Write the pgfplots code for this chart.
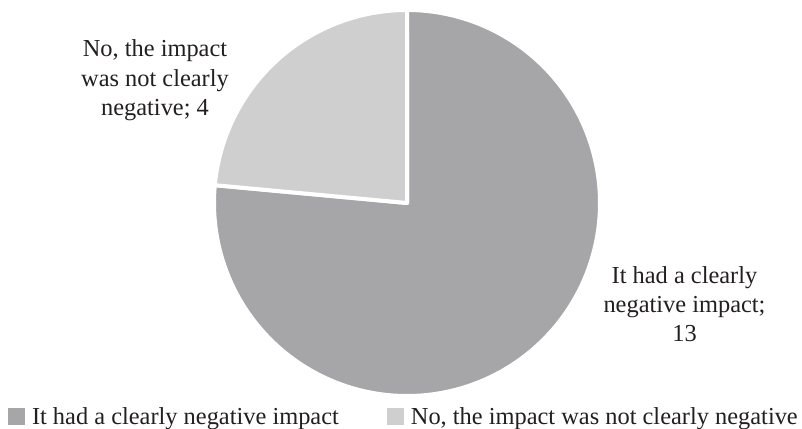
\documentclass[border=0pt]{standalone}
\usepackage{pgfplots}
\usepackage{pgfplotstable}
\pgfplotsset{compat=1.18}
\usepackage{fontspec}
\setmainfont{Liberation Serif}
\definecolor{darkg}{RGB}{166,166,169}
\definecolor{lightg}{RGB}{207,207,208}
\definecolor{txt}{RGB}{35,31,32}
\begin{document}
\begin{tikzpicture}[font=\fontsize{24.4bp}{29.3bp}\selectfont]
\pgfplotstableread{
label value
neg 13
notneg 4
}\piedata
\pgfplotstablegetelem{0}{value}\of\piedata \let\va\pgfplotsretval
\pgfplotstablegetelem{1}{value}\of\piedata \let\vb\pgfplotsretval
\pgfmathsetmacro\tot{\va+\vb}
\pgfmathsetmacro\angA{90-360*\va/\tot}
\pgfmathsetmacro\angB{90+360*\vb/\tot}
\def\R{1.0105}
\begin{axis}[
  at={(0,0)}, anchor=south west,
  scale only axis, width=802bp, height=429bp,
  xmin=-2.1309, xmax=2.0681, ymin=-1.1832, ymax=1.0628,
  hide axis, clip=false,
  legend columns=2,
  legend cell align=left,
  legend image code/.code={\fill[#1,draw=none] (0bp,-8.5bp) rectangle (17bp,8.5bp);},
  legend style={draw=none, fill=none, inner sep=0pt, outer sep=0pt,
    text=txt,
    nodes={inner sep=0pt, text depth=0.15em},
    at={(0.009975,0.0506)}, anchor=north west,
    /tikz/every odd column/.append style={column sep=7bp},
    /tikz/every even column/.append style={column sep=48bp}},
]
\addplot[fill=darkg, draw=white, line width=4bp, line join=round,
  domain=\angA:90, samples=300, variable=\t]
  ({\R*cos(t)},{\R*sin(t)}) -- (axis cs:0,0) -- cycle;
\addlegendentry{It had a clearly negative impact}
\addplot[fill=lightg, draw=white, line width=4bp, line join=round,
  domain=90:\angB, samples=120, variable=\t]
  ({\R*cos(t)},{\R*sin(t)}) -- (axis cs:0,0) -- cycle;
\addlegendentry{No, the impact was not clearly negative}
\node[align=center, inner sep=0pt, text=txt] at (axis cs:-1.3194,0.6424)
  {No, the impact\\was not clearly\\negative; \vb};
\node[align=center, inner sep=0pt, text=txt] at (axis cs:1.4529,-0.5298)
  {It had a clearly\\negative impact;\\\va};
\end{axis}
\pgfresetboundingbox
\path (0,0) rectangle (802bp,429bp);
\end{tikzpicture}
\end{document}
